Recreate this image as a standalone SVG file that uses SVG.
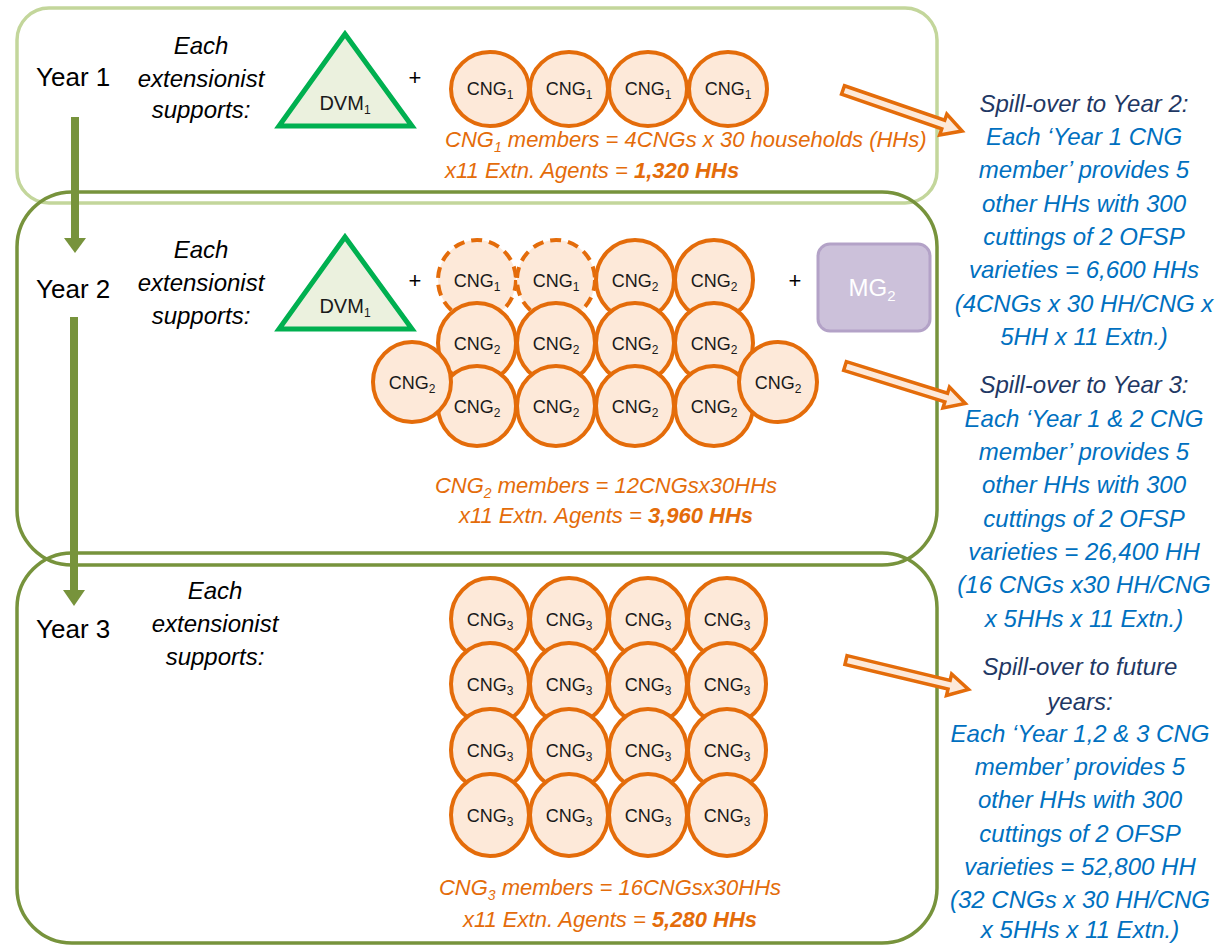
<svg xmlns="http://www.w3.org/2000/svg" xmlns:xlink="http://www.w3.org/1999/xlink" width="1227" height="947" viewBox="0 0 1227 947">
<style>
text{font-family:"Liberation Sans",Arial,sans-serif}
.yr{font-size:26px;fill:#000}
.each{font-size:24px;font-style:italic;fill:#000;text-anchor:middle}
.cng{fill:#fde9d9;stroke:#e46c0a;stroke-width:4}
.dash{stroke-dasharray:11 7}
.ct{font-size:18px;fill:#1a1a1a;text-anchor:middle}
.sub{font-size:12px}
.tri{fill:#ebf1de;stroke:#00b050;stroke-width:5;stroke-linejoin:miter}
.dvm{font-size:20px;fill:#1a1a1a;text-anchor:middle}
.plus{font-size:22px;fill:#000;text-anchor:middle}
.ot{font-size:22px;font-style:italic;fill:#e46c0a}
.otc{text-anchor:middle}
.b{font-weight:bold}
.st{font-size:24px;font-style:italic;fill:#1f3864;text-anchor:middle}
.sb{font-size:24px;font-style:italic;fill:#0070c0;text-anchor:middle}
.box{fill:none;stroke-width:3.5}
.sp{fill:#fde9d9;stroke:#e46c0a;stroke-width:3.5;stroke-linejoin:miter}
</style>
<defs>
<path id="spill" d="M0,-4.5 L106,-4.5 L106,-11 L126,0 L106,11 L106,4.5 L0,4.5 Z"/>
</defs>

<g id="boxes">
<rect id="box-year1" class="box" x="17" y="8" width="920" height="195" rx="32" stroke="#c3d69b"/>
<rect id="box-year2" class="box" x="17" y="192" width="920" height="373" rx="55" stroke="#77933c"/>
<rect id="box-year3" class="box" x="17" y="553" width="920" height="390" rx="55" stroke="#77933c"/>
</g>

<g id="connectors">
<line x1="75" y1="117" x2="75" y2="240" stroke="#77933c" stroke-width="8"/>
<polygon points="64,238 86,238 75,253" fill="#77933c"/>
<line x1="74" y1="317" x2="74" y2="592" stroke="#77933c" stroke-width="8"/>
<polygon points="63,590 85,590 74,606" fill="#77933c"/>
<use xlink:href="#spill" class="sp" transform="translate(843,90) rotate(19)"/>
<use xlink:href="#spill" class="sp" transform="translate(845,366) rotate(17.3)"/>
<use xlink:href="#spill" class="sp" transform="translate(846,660) rotate(13.5)"/>
</g>

<g id="year1">
<text class="yr" x="36" y="86">Year 1</text>
<text class="each" x="201" y="54">Each</text>
<text class="each" x="201" y="87">extensionist</text>
<text class="each" x="201" y="118">supports:</text>
<g id="dvm-y1"><polygon class="tri" points="345,34 279,126 412,126"/><text class="dvm" x="345" y="110">DVM<tspan class="sub" font-size="13" dy="4">1</tspan></text></g>
<text class="plus" x="415" y="85">+</text>
<g id="y1-cng1-a"><ellipse class="cng" cx="490" cy="89" rx="39" ry="37"/><text class="ct" x="490" y="95">CNG<tspan class="sub" dy="4">1</tspan></text></g>
<g id="y1-cng1-b"><ellipse class="cng" cx="569" cy="89" rx="39" ry="37"/><text class="ct" x="569" y="95">CNG<tspan class="sub" dy="4">1</tspan></text></g>
<g id="y1-cng1-c"><ellipse class="cng" cx="648" cy="89" rx="39" ry="37"/><text class="ct" x="648" y="95">CNG<tspan class="sub" dy="4">1</tspan></text></g>
<g id="y1-cng1-d"><ellipse class="cng" cx="728" cy="89" rx="39" ry="37"/><text class="ct" x="728" y="95">CNG<tspan class="sub" dy="4">1</tspan></text></g>
<text class="ot" x="445" y="147">CNG<tspan font-size="14" dy="5">1</tspan><tspan dy="-5"> members = 4CNGs x 30 households (HHs)</tspan></text>
<text class="ot" x="445" y="178">x11 Extn. Agents  = <tspan class="b">1,320 HHs</tspan></text>
</g>

<g id="year2">
<text class="yr" x="36" y="298">Year 2</text>
<text class="each" x="201" y="258">Each</text>
<text class="each" x="201" y="291">extensionist</text>
<text class="each" x="201" y="324">supports:</text>
<g id="dvm-y2"><polygon class="tri" points="345,237 279,329 412,329"/><text class="dvm" x="345" y="313">DVM<tspan class="sub" font-size="13" dy="4">1</tspan></text></g>
<text class="plus" x="415" y="288">+</text>
<g id="y2-r1c1"><ellipse class="cng dash" cx="477" cy="280" rx="39" ry="40"/><text class="ct" x="477" y="287">CNG<tspan class="sub" dy="4">1</tspan></text></g>
<g id="y2-r1c2"><ellipse class="cng dash" cx="556" cy="280" rx="39" ry="40"/><text class="ct" x="556" y="287">CNG<tspan class="sub" dy="4">1</tspan></text></g>
<g id="y2-r1c3"><ellipse class="cng" cx="635" cy="280" rx="39" ry="40"/><text class="ct" x="635" y="287">CNG<tspan class="sub" dy="4">2</tspan></text></g>
<g id="y2-r1c4"><ellipse class="cng" cx="714" cy="280" rx="39" ry="40"/><text class="ct" x="714" y="287">CNG<tspan class="sub" dy="4">2</tspan></text></g>
<g id="y2-r2c1"><ellipse class="cng" cx="477" cy="343" rx="39" ry="40"/><text class="ct" x="477" y="350">CNG<tspan class="sub" dy="4">2</tspan></text></g>
<g id="y2-r2c2"><ellipse class="cng" cx="556" cy="343" rx="39" ry="40"/><text class="ct" x="556" y="350">CNG<tspan class="sub" dy="4">2</tspan></text></g>
<g id="y2-r2c3"><ellipse class="cng" cx="635" cy="343" rx="39" ry="40"/><text class="ct" x="635" y="350">CNG<tspan class="sub" dy="4">2</tspan></text></g>
<g id="y2-r2c4"><ellipse class="cng" cx="714" cy="343" rx="39" ry="40"/><text class="ct" x="714" y="350">CNG<tspan class="sub" dy="4">2</tspan></text></g>
<g id="y2-r3c1"><ellipse class="cng" cx="477" cy="406" rx="39" ry="40"/><text class="ct" x="477" y="413">CNG<tspan class="sub" dy="4">2</tspan></text></g>
<g id="y2-r3c2"><ellipse class="cng" cx="556" cy="406" rx="39" ry="40"/><text class="ct" x="556" y="413">CNG<tspan class="sub" dy="4">2</tspan></text></g>
<g id="y2-r3c3"><ellipse class="cng" cx="635" cy="406" rx="39" ry="40"/><text class="ct" x="635" y="413">CNG<tspan class="sub" dy="4">2</tspan></text></g>
<g id="y2-r3c4"><ellipse class="cng" cx="714" cy="406" rx="39" ry="40"/><text class="ct" x="714" y="413">CNG<tspan class="sub" dy="4">2</tspan></text></g>
<g id="y2-left"><ellipse class="cng" cx="412" cy="382" rx="39" ry="40"/><text class="ct" x="412" y="389">CNG<tspan class="sub" dy="4">2</tspan></text></g>
<g id="y2-right"><ellipse class="cng" cx="778" cy="382" rx="39" ry="40"/><text class="ct" x="778" y="389">CNG<tspan class="sub" dy="4">2</tspan></text></g>
<text class="plus" x="795" y="288">+</text>
<g id="mg2"><rect x="818" y="244" width="112" height="87" rx="12" fill="#ccc1da" stroke="#b3a2c7" stroke-width="3"/><text x="872" y="296" font-size="24" fill="#fff" text-anchor="middle">MG<tspan font-size="15" dy="5">2</tspan></text></g>
<text class="ot otc" x="606" y="493">CNG<tspan font-size="14" dy="5">2</tspan><tspan dy="-5"> members = 12CNGsx30HHs</tspan></text>
<text class="ot otc" x="606" y="523">x11 Extn. Agents  = <tspan class="b">3,960 HHs</tspan></text>
</g>

<g id="year3">
<text class="yr" x="36" y="638">Year 3</text>
<text class="each" x="215" y="599">Each</text>
<text class="each" x="215" y="632">extensionist</text>
<text class="each" x="215" y="665">supports:</text>
<g id="y3-r1c1"><ellipse class="cng" cx="490" cy="619" rx="39" ry="41"/><text class="ct" x="490" y="626">CNG<tspan class="sub" dy="4">3</tspan></text></g>
<g id="y3-r1c2"><ellipse class="cng" cx="569" cy="619" rx="39" ry="41"/><text class="ct" x="569" y="626">CNG<tspan class="sub" dy="4">3</tspan></text></g>
<g id="y3-r1c3"><ellipse class="cng" cx="648" cy="619" rx="39" ry="41"/><text class="ct" x="648" y="626">CNG<tspan class="sub" dy="4">3</tspan></text></g>
<g id="y3-r1c4"><ellipse class="cng" cx="727" cy="619" rx="39" ry="41"/><text class="ct" x="727" y="626">CNG<tspan class="sub" dy="4">3</tspan></text></g>
<g id="y3-r2c1"><ellipse class="cng" cx="490" cy="684" rx="39" ry="41"/><text class="ct" x="490" y="691">CNG<tspan class="sub" dy="4">3</tspan></text></g>
<g id="y3-r2c2"><ellipse class="cng" cx="569" cy="684" rx="39" ry="41"/><text class="ct" x="569" y="691">CNG<tspan class="sub" dy="4">3</tspan></text></g>
<g id="y3-r2c3"><ellipse class="cng" cx="648" cy="684" rx="39" ry="41"/><text class="ct" x="648" y="691">CNG<tspan class="sub" dy="4">3</tspan></text></g>
<g id="y3-r2c4"><ellipse class="cng" cx="727" cy="684" rx="39" ry="41"/><text class="ct" x="727" y="691">CNG<tspan class="sub" dy="4">3</tspan></text></g>
<g id="y3-r3c1"><ellipse class="cng" cx="490" cy="750" rx="39" ry="41"/><text class="ct" x="490" y="757">CNG<tspan class="sub" dy="4">3</tspan></text></g>
<g id="y3-r3c2"><ellipse class="cng" cx="569" cy="750" rx="39" ry="41"/><text class="ct" x="569" y="757">CNG<tspan class="sub" dy="4">3</tspan></text></g>
<g id="y3-r3c3"><ellipse class="cng" cx="648" cy="750" rx="39" ry="41"/><text class="ct" x="648" y="757">CNG<tspan class="sub" dy="4">3</tspan></text></g>
<g id="y3-r3c4"><ellipse class="cng" cx="727" cy="750" rx="39" ry="41"/><text class="ct" x="727" y="757">CNG<tspan class="sub" dy="4">3</tspan></text></g>
<g id="y3-r4c1"><ellipse class="cng" cx="490" cy="815" rx="39" ry="41"/><text class="ct" x="490" y="822">CNG<tspan class="sub" dy="4">3</tspan></text></g>
<g id="y3-r4c2"><ellipse class="cng" cx="569" cy="815" rx="39" ry="41"/><text class="ct" x="569" y="822">CNG<tspan class="sub" dy="4">3</tspan></text></g>
<g id="y3-r4c3"><ellipse class="cng" cx="648" cy="815" rx="39" ry="41"/><text class="ct" x="648" y="822">CNG<tspan class="sub" dy="4">3</tspan></text></g>
<g id="y3-r4c4"><ellipse class="cng" cx="727" cy="815" rx="39" ry="41"/><text class="ct" x="727" y="822">CNG<tspan class="sub" dy="4">3</tspan></text></g>
<text class="ot otc" x="610" y="895">CNG<tspan font-size="14" dy="5">3</tspan><tspan dy="-5"> members = 16CNGsx30HHs</tspan></text>
<text class="ot otc" x="610" y="927">x11 Extn. Agents  = <tspan class="b">5,280 HHs</tspan></text>
</g>

<g id="spill-year2">
<text class="st" x="1084" y="112">Spill-over to Year 2:</text>
<text class="sb" x="1084" y="145">Each ‘Year 1 CNG</text>
<text class="sb" x="1084" y="178">member’ provides 5</text>
<text class="sb" x="1084" y="212">other HHs with 300</text>
<text class="sb" x="1084" y="245">cuttings of 2 OFSP</text>
<text class="sb" x="1084" y="278">varieties = 6,600 HHs</text>
<text class="sb" x="1084" y="312">(4CNGs x 30 HH/CNG x</text>
<text class="sb" x="1084" y="345">5HH x 11 Extn.)</text>
</g>

<g id="spill-year3">
<text class="st" x="1084" y="393">Spill-over to Year 3:</text>
<text class="sb" x="1084" y="427">Each ‘Year 1 &amp; 2 CNG</text>
<text class="sb" x="1084" y="460">member’ provides 5</text>
<text class="sb" x="1084" y="493">other HHs with 300</text>
<text class="sb" x="1084" y="527">cuttings of 2 OFSP</text>
<text class="sb" x="1084" y="560">varieties = 26,400 HH</text>
<text class="sb" x="1084" y="593">(16 CNGs x30 HH/CNG</text>
<text class="sb" x="1084" y="627">x 5HHs x 11 Extn.)</text>
</g>

<g id="spill-future">
<text class="st" x="1080" y="675">Spill-over to future</text>
<text class="st" x="1080" y="710">years:</text>
<text class="sb" x="1080" y="742">Each ‘Year 1,2 &amp; 3 CNG</text>
<text class="sb" x="1080" y="775">member’ provides 5</text>
<text class="sb" x="1080" y="808">other HHs with 300</text>
<text class="sb" x="1080" y="842">cuttings of 2 OFSP</text>
<text class="sb" x="1080" y="875">varieties = 52,800 HH</text>
<text class="sb" x="1080" y="908">(32 CNGs x 30 HH/CNG</text>
<text class="sb" x="1080" y="938">x 5HHs x 11 Extn.)</text>
</g>
</svg>
